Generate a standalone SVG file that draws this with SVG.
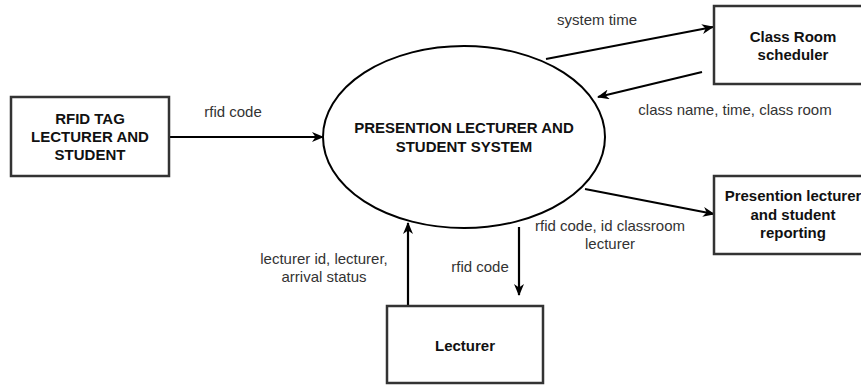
<svg xmlns="http://www.w3.org/2000/svg" width="861" height="387" viewBox="0 0 861 387">
<style>
.box{fill:#fff;stroke:#333;stroke-width:2.5}
.ell{fill:#fff;stroke:#000;stroke-width:2}
.edge{fill:none;stroke:#000;stroke-width:2.2}
.nt{font-family:"Liberation Sans",Arial,sans-serif;font-size:15px;font-weight:bold;fill:#111;text-anchor:middle}
.lb{font-family:"Liberation Sans",Arial,sans-serif;font-size:15px;fill:#333;text-anchor:middle}
</style>
<defs>
<marker id="arr" viewBox="0 0 12 10" refX="11" refY="5" markerWidth="12" markerHeight="10" orient="auto" markerUnits="userSpaceOnUse">
<path d="M0,0 L12,5 L0,10 L3.5,5 Z" fill="#000"/>
</marker>
</defs>
<rect width="861" height="387" fill="#fff"/>
<g id="connectors">
<line class="edge" x1="169" y1="137" x2="323" y2="137" marker-end="url(#arr)"/>
<line class="edge" x1="546" y1="59" x2="713" y2="27" marker-end="url(#arr)"/>
<line class="edge" x1="702" y1="72" x2="598" y2="97" marker-end="url(#arr)"/>
<line class="edge" x1="585" y1="189" x2="714" y2="214" marker-end="url(#arr)"/>
<line class="edge" x1="519" y1="227" x2="519" y2="295" marker-end="url(#arr)"/>
<line class="edge" x1="408" y1="306" x2="408" y2="223" marker-end="url(#arr)"/>
</g>
<g id="labels">
<text class="lb" x="233" y="117">rfid code</text>
<text class="lb" x="597" y="25">system time</text>
<text class="lb" x="735" y="115">class name, time, class room</text>
<text class="lb" x="610" y="231">rfid code, id classroom</text>
<text class="lb" x="610" y="249">lecturer</text>
<text class="lb" x="480" y="272">rfid code</text>
<text class="lb" x="324" y="264">lecturer id, lecturer,</text>
<text class="lb" x="324" y="282">arrival status</text>
</g>
<g id="rfid">
<rect class="box" x="11" y="97" width="158" height="79"/>
<text class="nt" x="90" y="124">RFID TAG</text>
<text class="nt" x="90" y="142">LECTURER AND</text>
<text class="nt" x="90" y="160">STUDENT</text>
</g>
<g id="system">
<ellipse class="ell" cx="464" cy="137" rx="141" ry="91"/>
<text class="nt" x="464" y="133">PRESENTION LECTURER AND</text>
<text class="nt" x="464" y="152">STUDENT SYSTEM</text>
</g>
<g id="scheduler">
<rect class="box" x="714" y="6" width="158" height="78"/>
<text class="nt" x="793" y="42">Class Room</text>
<text class="nt" x="793" y="60">scheduler</text>
</g>
<g id="reporting">
<rect class="box" x="714" y="176" width="158" height="78"/>
<text class="nt" x="793" y="201">Presention lecturer</text>
<text class="nt" x="793" y="220">and student</text>
<text class="nt" x="793" y="238">reporting</text>
</g>
<g id="lecturer">
<rect class="box" x="387" y="306" width="156" height="77"/>
<text class="nt" x="465" y="351">Lecturer</text>
</g>
</svg>
